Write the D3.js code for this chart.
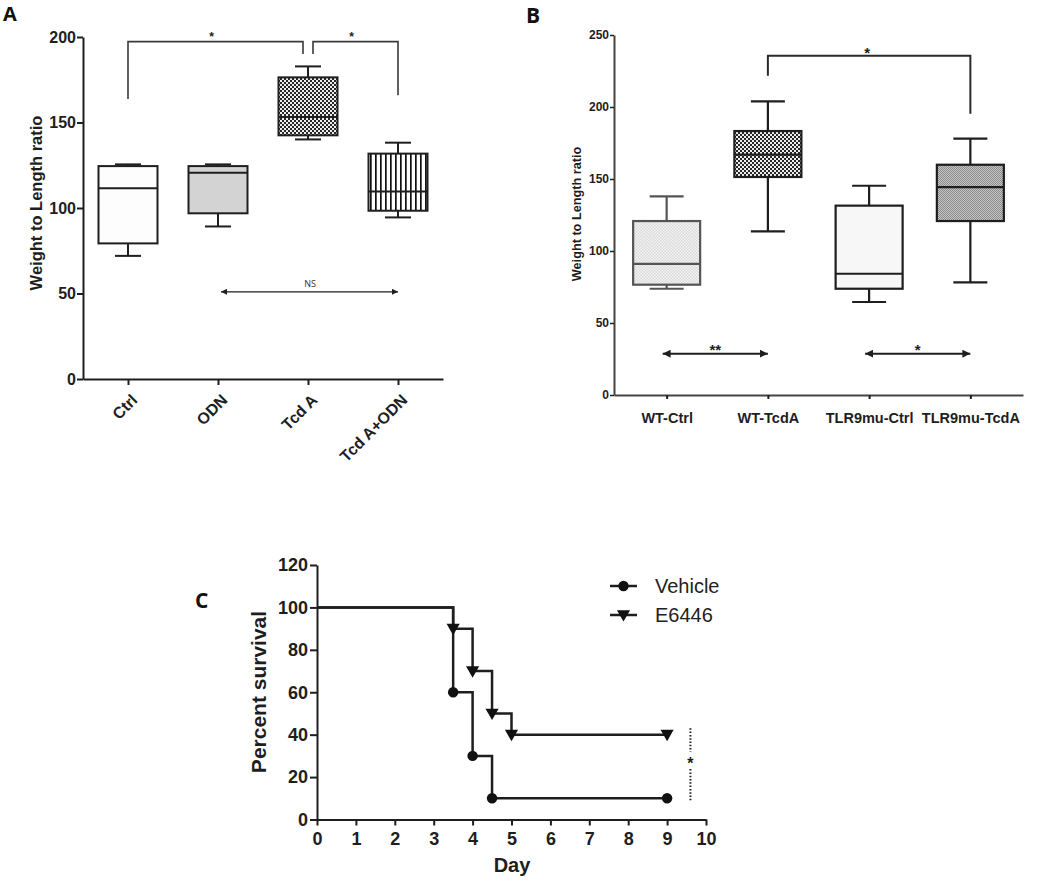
<!DOCTYPE html>
<html><head><meta charset="utf-8">
<script src="https://cdn.jsdelivr.net/npm/d3@7"></script>
<style>
body{margin:0;background:#fff;}
svg{display:block;font-family:"Liberation Sans",Arial,sans-serif;}
</style></head><body>
<svg id="chart" width="1050" height="889"></svg>
<script>
// ---------- Panel A data ----------
const aCategories = ["Ctrl", "ODN", "Tcd A", "Tcd A+ODN"];
const aMin    = [72,    89.2,  140.1, 94.5];
const aQ1     = [79.3,  96.9,  142.5, 98.4];
const aMedian = [111.5, 120.6, 153.2, 109.7];
const aQ3     = [124.5, 124.5, 176.4, 131.8];
const aMax    = [125.5, 125.5, 182.8, 138.2];
const aYTicks = [0, 50, 100, 150, 200];
// brackets: [left category, right category, top value, left leg end, right leg end, label]
const aBrackets = [["Ctrl", "Tcd A", 197.3, 163.7, 190, "*"], ["Tcd A", "Tcd A+ODN", 197.3, 190, 166, "*"]];
const aArrows = [["ODN", "Tcd A+ODN", 51, "NS"]];

// ---------- Panel B data ----------
const bCategories = ["WT-Ctrl", "WT-TcdA", "TLR9mu-Ctrl", "TLR9mu-TcdA"];
const bMin    = [73.8,  113.6, 64.6,  78.2];
const bQ1     = [76.6,  151.4, 73.8,  120.8];
const bMedian = [91,    166.9, 84.2,  144.4];
const bQ3     = [120.8, 183.3, 131.5, 159.9];
const bMax    = [137.9, 203.9, 145.3, 178];
const bYTicks = [0, 50, 100, 150, 200, 250];
const bBrackets = [["WT-TcdA", "TLR9mu-TcdA", 235.6, 221.7, 195.3, "*"]];
const bArrows = [["WT-Ctrl", "WT-TcdA", 28.7, "**"], ["TLR9mu-Ctrl", "TLR9mu-TcdA", 28.7, "*"]];

// ---------- Panel C data ----------
const cSeries = ["Vehicle", "E6446"];
const cDaysVehicle = [0, 3.5, 4, 4.5, 9];
const cSurvVehicle = [100, 60, 30, 10, 10];
const cDaysE6446 = [0, 3.5, 4, 4.5, 5, 9];
const cSurvE6446 = [100, 90, 70, 50, 40, 40];
const cXTicks = [0, 1, 2, 3, 4, 5, 6, 7, 8, 9, 10];
const cYTicks = [0, 20, 40, 60, 80, 100, 120];
const cSignif = [9.6, 9, 43, 28, "*"]; // day, from, to, star position, label

const svg = d3.select("#chart");
const defs = svg.append("defs");
const INK = "#1e1e1e";

// ---- patterns ----
function checker(id, size, bg, fg) {
  const p = defs.append("pattern").attr("id", id).attr("patternUnits", "userSpaceOnUse")
    .attr("width", size * 2).attr("height", size * 2);
  p.append("rect").attr("width", size * 2).attr("height", size * 2).attr("fill", bg);
  p.append("rect").attr("width", size).attr("height", size).attr("fill", fg);
  p.append("rect").attr("x", size).attr("y", size).attr("width", size).attr("height", size).attr("fill", fg);
}
checker("checkDark", 2, "#262626", "#eeeeee");
checker("checkLight", 1.5, "#f4f4f4", "#d9d9d9");
checker("checkGray", 1, "#c4c4c4", "#8c8c8c");
(function () {
  const p = defs.append("pattern").attr("id", "vstripe").attr("patternUnits", "userSpaceOnUse")
    .attr("width", 5).attr("height", 10);
  p.append("rect").attr("width", 5).attr("height", 10).attr("fill", "#fff");
  p.append("rect").attr("x", 0).attr("width", 1.7).attr("height", 10).attr("fill", "#111");
})();
function arrowMarker(id, len, half) {
  defs.append("marker").attr("id", id).attr("markerUnits", "userSpaceOnUse")
    .attr("viewBox", `0 ${-half} ${len} ${half * 2}`).attr("refX", len).attr("refY", 0)
    .attr("markerWidth", len).attr("markerHeight", half * 2).attr("orient", "auto-start-reverse")
    .append("path").attr("d", `M0,${-half}L${len},0L0,${half}Z`).attr("fill", INK);
}
arrowMarker("arrA", 6, 3);
arrowMarker("arrB", 8, 4);

function styleAxis(g, fontSize) {
  g.selectAll("path.domain").attr("stroke", INK).attr("stroke-width", 2);
  g.selectAll(".tick line").attr("stroke", INK).attr("stroke-width", 2);
  g.selectAll(".tick text").attr("fill", INK).attr("font-weight", "bold")
    .attr("font-size", fontSize).attr("font-family", "'Liberation Sans', Arial, sans-serif");
}

function drawBoxes(g, rows, x, y, boxW, capW, fills, strokes, sw) {
  rows.forEach((d, i) => {
    const cx = x(d.cat);
    const s = strokes[i];
    const gg = g.append("g");
    gg.append("line").attr("x1", cx).attr("x2", cx).attr("y1", y(d.q3)).attr("y2", y(d.max)).attr("stroke", s).attr("stroke-width", sw);
    gg.append("line").attr("x1", cx).attr("x2", cx).attr("y1", y(d.q1)).attr("y2", y(d.min)).attr("stroke", s).attr("stroke-width", sw);
    gg.append("line").attr("x1", cx - capW / 2).attr("x2", cx + capW / 2).attr("y1", y(d.max)).attr("y2", y(d.max)).attr("stroke", s).attr("stroke-width", sw);
    gg.append("line").attr("x1", cx - capW / 2).attr("x2", cx + capW / 2).attr("y1", y(d.min)).attr("y2", y(d.min)).attr("stroke", s).attr("stroke-width", sw);
    gg.append("rect").attr("x", cx - boxW / 2).attr("y", y(d.q3)).attr("width", boxW).attr("height", y(d.q1) - y(d.q3))
      .attr("fill", fills[i]).attr("stroke", s).attr("stroke-width", sw);
    gg.append("line").attr("x1", cx - boxW / 2).attr("x2", cx + boxW / 2).attr("y1", y(d.med)).attr("y2", y(d.med)).attr("stroke", s).attr("stroke-width", sw);
  });
}

function rowsOf(cats, mn, q1, md, q3, mx) {
  return cats.map((c, i) => ({ cat: c, min: mn[i], q1: q1[i], med: md[i], q3: q3[i], max: mx[i] }));
}

// ================= PANEL A =================
{
  const x = d3.scalePoint().domain(aCategories).range([83, 443]).padding(0.5);
  const y = d3.scaleLinear().domain([0, 200]).range([379, 37]);
  const g = svg.append("g");
  const yAx = g.append("g").attr("transform", "translate(83,0)")
    .call(d3.axisLeft(y).tickValues(aYTicks).tickSize(6).tickPadding(1).tickSizeOuter(0));
  styleAxis(yAx, 16);
  const xAx = g.append("g").attr("transform", "translate(0,379)")
    .call(d3.axisBottom(x).tickSize(6).tickSizeOuter(0));
  styleAxis(xAx, 16);
  xAx.selectAll(".tick text").attr("text-anchor", "end").attr("dy", null).attr("y", null)
    .attr("transform", "translate(10,22) rotate(-45)");

  drawBoxes(g, rowsOf(aCategories, aMin, aQ1, aMedian, aQ3, aMax), x, y, 59, 26,
    ["#fdfdfd", "#d3d3d3", "url(#checkDark)", "url(#vstripe)"], [INK, INK, INK, INK], 2);

  // brackets
  aBrackets.forEach((b, i) => {
    const x1 = x(b[0]) + (i === 1 ? 5 : 0);
    const x2 = x(b[1]) - (i === 0 ? 5 : 0);
    g.append("path").attr("d", `M${x1},${y(b[3])}V${y(b[2])}H${x2}V${y(b[4])}`)
      .attr("fill", "none").attr("stroke", "#3a3a3a").attr("stroke-width", 1.6);
    g.append("text").attr("x", (x1 + x2) / 2 - 4).attr("y", y(b[2]) - 0.5).attr("text-anchor", "middle")
      .attr("font-size", 12).attr("font-weight", "bold").attr("fill", INK).text(b[5]);
  });
  aArrows.forEach(a => {
    g.append("line").attr("x1", x(a[0]) + 3).attr("x2", x(a[1])).attr("y1", y(a[2])).attr("y2", y(a[2]))
      .attr("stroke", INK).attr("stroke-width", 1.3)
      .attr("marker-start", "url(#arrA)").attr("marker-end", "url(#arrA)");
    g.append("text").attr("x", (x(a[0]) + x(a[1])) / 2 + 2).attr("y", y(a[2]) - 5).attr("text-anchor", "middle")
      .attr("font-size", 9).attr("fill", "#333").attr("font-family", "'Open Sans', sans-serif").text(a[3]);
  });
  g.append("text").attr("transform", "translate(42,203) rotate(-90)").attr("text-anchor", "middle")
    .attr("font-size", 16.5).attr("font-weight", "bold").attr("fill", INK).text("Weight to Length ratio");
  g.append("text").attr("x", 3).attr("y", 21).attr("font-size", 20).attr("font-weight", "bold")
    .attr("font-family", "'Open Sans', sans-serif").attr("fill", "#111").text("A");
}

// ================= PANEL B =================
{
  const x = d3.scalePoint().domain(bCategories).range([614, 1023]).padding(0.52);
  const y = d3.scaleLinear().domain([0, 250]).range([395, 35]);
  const g = svg.append("g");
  const yAx = g.append("g").attr("transform", "translate(614,0)")
    .call(d3.axisLeft(y).tickValues(bYTicks).tickSize(4).tickPadding(1).tickSizeOuter(0));
  styleAxis(yAx, 12);
  yAx.selectAll(".tick line").attr("stroke-width", 1.5);
  yAx.select("path.domain").attr("stroke", "#444");
  const xAx = g.append("g").attr("transform", "translate(0,395)")
    .call(d3.axisBottom(x).tickSize(4).tickPadding(14).tickSizeOuter(0));
  styleAxis(xAx, 14.5);
  xAx.select("path.domain").attr("stroke", "#444");

  drawBoxes(g, rowsOf(bCategories, bMin, bQ1, bMedian, bQ3, bMax), x, y, 67, 34,
    ["url(#checkLight)", "url(#checkDark)", "#f7f7f7", "url(#checkGray)"], ["#555", INK, INK, INK], 2.2);

  bBrackets.forEach(b => {
    const x1 = x(b[0]), x2 = x(b[1]);
    g.append("path").attr("d", `M${x1},${y(b[3])}V${y(b[2])}H${x2}V${y(b[4])}`)
      .attr("fill", "none").attr("stroke", "#2a2a2a").attr("stroke-width", 2);
    g.append("text").attr("x", (x1 + x2) / 2 - 2).attr("y", y(b[2]) + 2).attr("text-anchor", "middle")
      .attr("font-size", 15).attr("font-weight", "bold").attr("fill", INK).text(b[5]);
  });
  bArrows.forEach(a => {
    const x1 = x(a[0]) - 4, x2 = x(a[1]);
    g.append("line").attr("x1", x1).attr("x2", x2).attr("y1", y(a[2])).attr("y2", y(a[2]))
      .attr("stroke", INK).attr("stroke-width", 2)
      .attr("marker-start", "url(#arrB)").attr("marker-end", "url(#arrB)");
    g.append("text").attr("x", (x1 + x2) / 2).attr("y", y(a[2]) + 1).attr("text-anchor", "middle")
      .attr("font-size", 15).attr("font-weight", "bold").attr("fill", INK).text(a[3]);
  });
  g.append("text").attr("transform", "translate(580.5,214) rotate(-90)").attr("text-anchor", "middle")
    .attr("font-size", 12.7).attr("font-weight", "bold").attr("fill", INK).text("Weight to Length ratio");
  g.append("text").attr("x", 526).attr("y", 23).attr("font-size", 21).attr("font-weight", "bold")
    .attr("font-family", "'Open Sans', sans-serif").attr("fill", "#111").text("B");
}

// ================= PANEL C =================
{
  const x = d3.scaleLinear().domain([0, 10]).range([317, 706]);
  const y = d3.scaleLinear().domain([0, 120]).range([819.5, 565]);
  const g = svg.append("g");
  const yAx = g.append("g").attr("transform", "translate(317,0)")
    .call(d3.axisLeft(y).tickValues(cYTicks).tickSize(7).tickPadding(2).tickSizeOuter(0));
  styleAxis(yAx, 18);
  const xAx = g.append("g").attr("transform", "translate(0,819.5)")
    .call(d3.axisBottom(x).tickValues(cXTicks).tickFormat(d3.format("d")).tickSize(6).tickPadding(7).tickSizeOuter(0));
  styleAxis(xAx, 18);

  const line = d3.line().x(d => x(d[0])).y(d => y(d[1])).curve(d3.curveStepAfter);
  const vPts = cDaysVehicle.map((d, i) => [d, cSurvVehicle[i]]);
  const ePts = cDaysE6446.map((d, i) => [d, cSurvE6446[i]]);
  g.append("path").attr("d", line(ePts)).attr("fill", "none").attr("stroke", INK).attr("stroke-width", 2.5);
  g.append("path").attr("d", line(vPts)).attr("fill", "none").attr("stroke", INK).attr("stroke-width", 2.5);
  const tri = d3.symbol().type(d3.symbolTriangle).size(75);
  g.selectAll(".vm").data(vPts.slice(1)).join("circle").attr("cx", d => x(d[0])).attr("cy", d => y(d[1]))
    .attr("r", 5.2).attr("fill", "#111");
  g.selectAll(".em").data(ePts.slice(1)).join("path").attr("d", tri)
    .attr("transform", d => `translate(${x(d[0])},${y(d[1]) - 1}) rotate(180)`).attr("fill", "#111");

  // significance
  const sx = x(cSignif[0]);
  g.append("line").attr("x1", sx).attr("x2", sx).attr("y1", y(cSignif[2])).attr("y2", y(cSignif[3]) - 8)
    .attr("stroke", INK).attr("stroke-width", 2).attr("stroke-dasharray", "1.5,1.8");
  g.append("line").attr("x1", sx).attr("x2", sx).attr("y1", y(cSignif[3]) + 9).attr("y2", y(cSignif[1]))
    .attr("stroke", INK).attr("stroke-width", 2).attr("stroke-dasharray", "1.5,1.8");
  g.append("text").attr("x", sx).attr("y", y(cSignif[3]) + 9).attr("text-anchor", "middle")
    .attr("font-size", 16).attr("font-weight", "bold").attr("fill", INK).text(cSignif[4]);

  // legend
  const leg = g.append("g");
  cSeries.forEach((s, i) => {
    const ly = 586 + i * 29;
    leg.append("line").attr("x1", 610).attr("x2", 637).attr("y1", ly).attr("y2", ly).attr("stroke", INK).attr("stroke-width", 2.5);
    if (i === 0) leg.append("circle").attr("cx", 623.5).attr("cy", ly).attr("r", 5.2).attr("fill", "#111");
    else leg.append("path").attr("d", tri).attr("transform", `translate(623.5,${ly - 1}) rotate(180)`).attr("fill", "#111");
    leg.append("text").attr("x", 655).attr("y", ly + 7).attr("font-size", 20).attr("fill", "#222").text(s);
  });

  g.append("text").attr("transform", "translate(265.5,692) rotate(-90)").attr("text-anchor", "middle")
    .attr("font-size", 21).attr("font-weight", "bold").attr("fill", INK).text("Percent survival");
  g.append("text").attr("x", 512).attr("y", 872).attr("text-anchor", "middle")
    .attr("font-size", 20).attr("font-weight", "bold").attr("fill", INK).text("Day");
  g.append("text").attr("x", 195).attr("y", 608).attr("font-size", 21).attr("font-weight", "bold")
    .attr("font-family", "'Open Sans', sans-serif").attr("fill", "#111").text("C");
}
</script>
</body></html>
